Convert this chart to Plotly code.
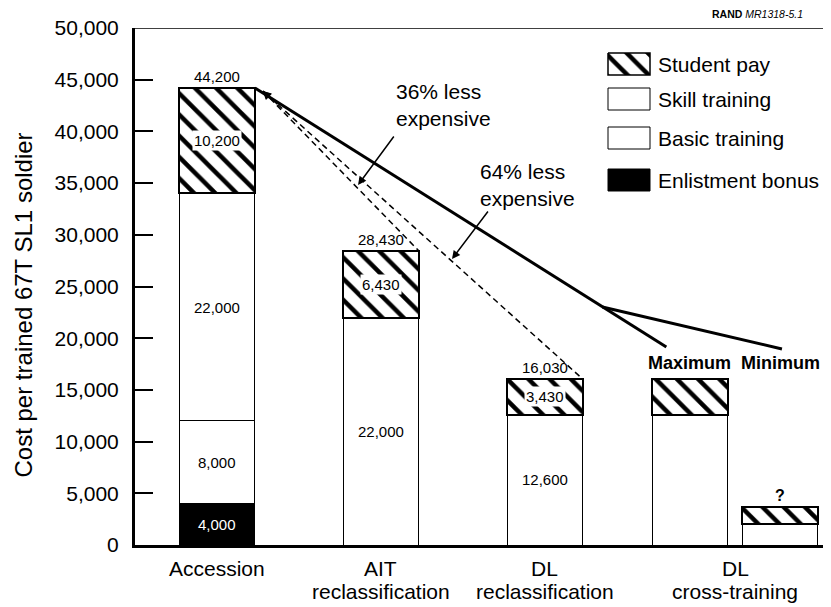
import plotly.graph_objects as go

# ---------------- data ----------------
categories = ["Accession", "AIT<br>reclassification", "DL<br>reclassification", "DL<br>cross-training"]
category_pos = [1.0, 2.0, 3.0, 4.16]

bar_names = ["Accession", "AIT reclassification", "DL reclassification", "Maximum", "Minimum"]
bar_pos = [1.0, 2.0, 3.0, 3.884, 4.433]
bar_width = 0.463

enlistment_bonus = [4000, None, None, None, None]
basic_training = [8000, None, None, None, None]
skill_training = [22000, 22000, 12600, 12600, 2000]
student_pay = [10200, 6430, 3430, 3430, 1700]

label_bonus = ["4,000", None, None, None, None]
label_basic = ["8,000", None, None, None, None]
label_skill = ["22,000", "22,000", "12,600", None, None]
label_pay = ["10,200", "6,430", "3,430", None, None]
label_total = ["44,200", "28,430", "16,030", None, None]
label_top = [None, None, None, "Maximum", "Minimum"]

y_ticks = [0, 5000, 10000, 15000, 20000, 25000, 30000, 35000, 40000, 45000, 50000]

# trend lines
solid_junction = (3.35, 23020)
solid_ends = [(3.74, 19150), (4.445, 18960)]
dash_tip = (1.280, 43900)
arrow36 = ((2.085, 39650), (1.86, 34820))
arrow64 = ((2.659, 32400), (2.433, 27660))
text36 = (2.079, 42550)
text64 = (2.591, 34820)

legend_items = ["Student pay", "Skill training", "Basic training", "Enlistment bonus"]

FONT = "Liberation Sans, Arial, Helvetica, sans-serif"

# page pixel geometry of the plot area (browser body adds an 8px offset)
PAGE_OFF = 8
PX_L, PX_R, PX_T, PX_B = 135, 831, 28, 545


def paper_x(px):
    return (px - PX_L) / (PX_R - PX_L)


def paper_y(py):
    return (PX_B - py) / (PX_B - PX_T)


fig = go.Figure()

hatch = dict(shape="\\", size=15, solidity=0.3, fgcolor="black", bgcolor="white", fgopacity=1)

stack = [
    ("Enlistment bonus", enlistment_bonus, "black", None, 1.0),
    ("Basic training", basic_training, "white", None, 1.0),
    ("Skill training", skill_training, "white", None, 1.0),
    ("Student pay", student_pay, "white", hatch, 2.0),
]
for name, vals, color, pat, lw in stack:
    marker = dict(color=color, line=dict(color="black", width=lw))
    if pat:
        marker["pattern"] = pat
    fig.add_trace(go.Bar(x=bar_pos, y=vals, width=bar_width, name=name,
                         marker=marker, showlegend=False, hoverinfo="skip"))

# segment labels at segment midpoints
series = [(enlistment_bonus, label_bonus, "white", None),
          (basic_training, label_basic, "black", None),
          (skill_training, label_skill, "black", None),
          (student_pay, label_pay, "black", "white")]
bottoms = [0] * len(bar_pos)
for vals, labels, fcol, bg in series:
    for i, v in enumerate(vals):
        if v is None:
            continue
        if labels[i]:
            fig.add_annotation(x=bar_pos[i], y=bottoms[i] + v / 2, text=labels[i], showarrow=False,
                               font=dict(size=15, color=fcol), bgcolor=bg, borderpad=1)
        bottoms[i] += v
totals = bottoms[:]

for i, t in enumerate(totals):
    if label_total[i]:
        fig.add_annotation(x=bar_pos[i], y=t, text=label_total[i], showarrow=False,
                           yanchor="bottom", yshift=1, font=dict(size=15))
    if label_top[i]:
        fig.add_annotation(x=bar_pos[i], y=totals[3], text="<b>%s</b>" % label_top[i], showarrow=False,
                           yanchor="bottom", yshift=4, font=dict(size=18))
fig.add_annotation(x=bar_pos[4], y=totals[4], text="<b>?</b>", showarrow=False,
                   yanchor="bottom", yshift=1, font=dict(size=16))

# solid trend line
start = (bar_pos[0] + bar_width / 2, totals[0])
fig.add_trace(go.Scatter(x=[start[0], solid_junction[0], solid_ends[0][0]],
                         y=[start[1], solid_junction[1], solid_ends[0][1]],
                         mode="lines", line=dict(color="black", width=3), showlegend=False, hoverinfo="skip"))
fig.add_trace(go.Scatter(x=[solid_junction[0], solid_ends[1][0]],
                         y=[solid_junction[1], solid_ends[1][1]],
                         mode="lines", line=dict(color="black", width=3), showlegend=False, hoverinfo="skip"))

# dashed lines to AIT and DL bars
for j in (1, 2):
    end = (bar_pos[j] + bar_width / 2, totals[j])
    fig.add_trace(go.Scatter(x=[dash_tip[0], end[0]], y=[dash_tip[1], end[1]], mode="lines",
                             line=dict(color="black", width=1.5, dash="6px,4px"),
                             showlegend=False, hoverinfo="skip"))
    tail = (dash_tip[0] + 0.05 * (end[0] - dash_tip[0]), dash_tip[1] + 0.05 * (end[1] - dash_tip[1]))
    fig.add_annotation(x=dash_tip[0], y=dash_tip[1], ax=tail[0], ay=tail[1], xref="x", yref="y",
                       axref="x", ayref="y", text="", showarrow=True, arrowhead=2, arrowsize=1.1,
                       arrowwidth=1.5, arrowcolor="black")

for (tail, head) in (arrow36, arrow64):
    fig.add_annotation(x=head[0], y=head[1], ax=tail[0], ay=tail[1], xref="x", yref="y",
                       axref="x", ayref="y", text="", showarrow=True, arrowhead=2, arrowsize=1.1,
                       arrowwidth=1.5, arrowcolor="black")

fig.add_annotation(x=text36[0], y=text36[1], text="36% less<br>expensive", showarrow=False,
                   xanchor="left", align="left", font=dict(size=21))
fig.add_annotation(x=text64[0], y=text64[1], text="64% less<br>expensive", showarrow=False,
                   xanchor="left", align="left", font=dict(size=21))

# top border line
fig.add_shape(type="line", xref="paper", yref="y", x0=0, x1=1, y0=50000, y1=50000,
              line=dict(color="black", width=1.5))

# category labels (one annotation per text line)
CAT_LINE_Y = [568, 591]
for xpos, lab in zip(category_pos, categories):
    for k, line in enumerate(lab.split("<br>")):
        fig.add_annotation(x=xpos, y=paper_y(CAT_LINE_Y[k]), xref="x", yref="paper", text=line,
                           xanchor="center", yanchor="middle", showarrow=False, font=dict(size=21))

# ---- legend drawn on an overlay axis measured in page pixels ----
leg_y = [64, 99, 138, 180]
leg_fill = ["white", "white", "white", "black"]
for k, name in enumerate(legend_items):
    x0, x1 = 608, 650
    y0, y1 = leg_y[k] - 11, leg_y[k] + 11
    kw = dict(fillpattern=hatch) if k == 0 else {}
    fig.add_trace(go.Scatter(x=[x0, x1, x1, x0, x0], y=[y0, y0, y1, y1, y0], xaxis="x2", yaxis="y2",
                             mode="lines", fill="toself", fillcolor=leg_fill[k],
                             line=dict(color="black", width=1.5 if k == 0 else 1),
                             showlegend=False, hoverinfo="skip", **kw))
    fig.add_annotation(x=656, y=leg_y[k], xref="x2", yref="y2", text=name, showarrow=False,
                       xanchor="left", yanchor="middle", font=dict(size=21))

# y-axis title and source note (paper coordinates)
fig.add_annotation(x=paper_x(22.5), y=paper_y(305), xref="paper", yref="paper",
                   text="Cost per trained 67T SL1 soldier", xanchor="center", yanchor="middle",
                   textangle=-90, showarrow=False, font=dict(size=24))
fig.add_annotation(x=paper_x(710), y=paper_y(14), xref="paper", yref="paper",
                   text="<b>RAND</b> <i>MR1318-5.1</i>",
                   showarrow=False, xanchor="left", yanchor="middle", font=dict(size=10.5))

fig.update_layout(
    width=831 - PAGE_OFF, height=607 - PAGE_OFF,
    margin=dict(l=PX_L - PAGE_OFF, r=0, t=PX_T - PAGE_OFF, b=607 - PX_B, autoexpand=False),
    plot_bgcolor="white", paper_bgcolor="white",
    barmode="stack", showlegend=False,
    font=dict(family=FONT, size=21, color="black"),
    xaxis=dict(range=[0.5, 4.744], showticklabels=False, ticks="",
               showline=True, linewidth=3, linecolor="black", showgrid=False, zeroline=False,
               automargin=False),
    yaxis=dict(range=[0, 50000], tickvals=y_ticks, tickformat=",d", ticks="inside", ticklen=18,
               tickwidth=1.5, tickcolor="black", showline=True, linewidth=3, linecolor="black",
               showgrid=False, zeroline=False, ticklabelstandoff=9, tickfont=dict(size=21),
               automargin=False),
    xaxis2=dict(overlaying="x", anchor="y2", range=[PX_L, PX_R], visible=False, fixedrange=True),
    yaxis2=dict(overlaying="y", anchor="x2", range=[PX_B, PX_T], visible=False, fixedrange=True),
)

fig.write_html("out.html")
